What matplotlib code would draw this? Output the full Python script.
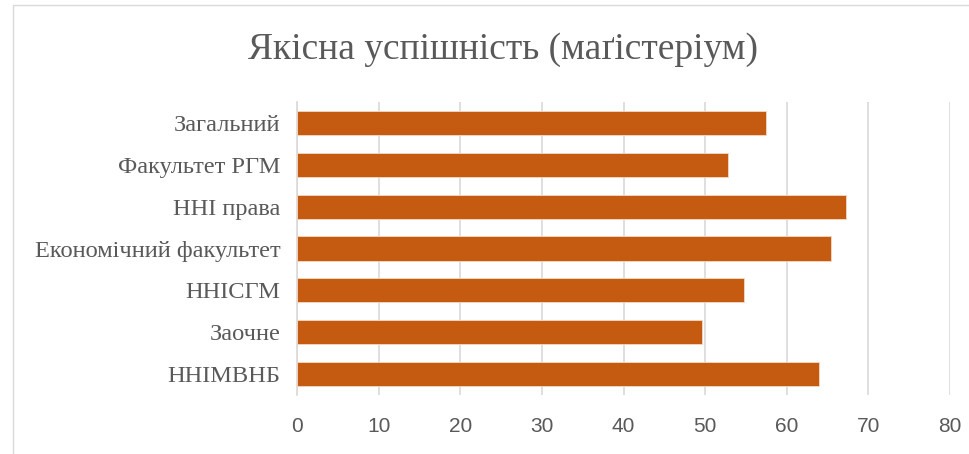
import matplotlib.pyplot as plt
from matplotlib.patches import Rectangle

categories = ['Загальний', 'Факультет РГМ', 'ННІ права', 'Економічний факультет',
              'ННІСГМ', 'Заочне', 'ННІМВНБ']
values = [57.5, 52.8, 67.2, 65.4, 54.8, 49.6, 64.0]
x_ticks = [0, 10, 20, 30, 40, 50, 60, 70, 80]
title = 'Якісна успішність (маґістеріум)'

text_color = '#595959'
grid_color = '#d9d9d9'
bar_color = '#C55A11'

fig = plt.figure(figsize=(9.69, 4.54), dpi=100)
W, H = 969, 454

# outer chart frame (like an Excel chart area)
fig.patches.append(Rectangle((13 / W, -0.1), 1.2, 1.1 - 5 / H, transform=fig.transFigure,
                             fill=False, edgecolor=grid_color, linewidth=1.0))

ax = fig.add_axes([297 / W, 1 - 395 / H, (950 - 297) / W, (395 - 102) / H])

pos = list(range(len(categories)))[::-1]
ax.barh(pos, values, height=0.58, color=bar_color, edgecolor='#f4d9c6', linewidth=0.6, zorder=3)

ax.set_xlim(0, 80)
ax.set_ylim(-0.5, len(categories) - 0.5)
ax.set_xticks(x_ticks)
ax.set_yticks(pos)
ax.set_yticklabels(categories, family='Liberation Serif', fontsize=17.6, color=text_color)
ax.set_xticklabels([str(t) for t in x_ticks], family='Liberation Sans', fontsize=15,
                   color=text_color)
ax.tick_params(axis='both', length=0)
ax.tick_params(axis='x', pad=16)
ax.tick_params(axis='y', pad=12)

ax.grid(axis='x', color=grid_color, linewidth=1.2, zorder=0)
for s in ['top', 'right', 'bottom']:
    ax.spines[s].set_visible(False)
ax.spines['left'].set_color(grid_color)
ax.spines['left'].set_linewidth(1.2)

fig.text(0.5 * (248 + 757) / W, 1 - 50 / H, title, family='Liberation Serif', fontsize=27,
         color=text_color, ha='center', va='center')

fig.savefig('out.png', dpi=100)
